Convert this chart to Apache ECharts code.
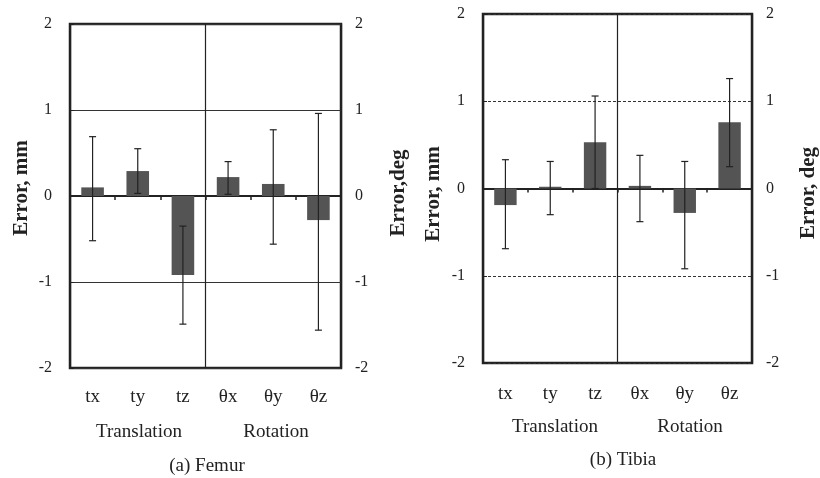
<!DOCTYPE html>
<html>
<head>
<meta charset="utf-8">
<script src="https://cdn.jsdelivr.net/npm/echarts@6/dist/echarts.min.js"></script>
<style>
  html, body { margin: 0; padding: 0; background: #fff; }
  #main { width: 820px; height: 478px; }
</style>
</head>
<body>
<div id="main"></div>
<script>
// values (mean and error bar ends)
var categories = ['tx', 'ty', 'tz', 'θx', 'θy', 'θz'];
var groupSize = 3; // translation | rotation

var femurMean = [0.10, 0.29, -0.92, 0.22, 0.14, -0.28];
var femurLow  = [-0.52, 0.03, -1.49, 0.02, -0.56, -1.56];
var femurHigh = [0.69, 0.55, -0.35, 0.40, 0.77, 0.96];

var tibiaMean = [-0.19, 0.02, 0.53, 0.03, -0.28, 0.76];
var tibiaLow  = [-0.69, -0.30, 0.00, -0.38, -0.92, 0.25];
var tibiaHigh = [0.33, 0.31, 1.06, 0.38, 0.31, 1.26];

var FONT = '"Liberation Serif", "DejaVu Serif", serif';
var INK = '#222';

var myChart = echarts.init(document.getElementById('main'));

function errRender(params, api) {
  var x = api.value(0);
  var lo = api.coord([x, api.value(1)]);
  var hi = api.coord([x, api.value(2)]);
  var cap = 3.5;
  var st = { stroke: INK, lineWidth: 1.2 };
  return {
    type: 'group',
    children: [
      { type: 'line', shape: { x1: lo[0], y1: lo[1], x2: hi[0], y2: hi[1] }, style: st },
      { type: 'line', shape: { x1: lo[0] - cap, y1: lo[1], x2: lo[0] + cap, y2: lo[1] }, style: st },
      { type: 'line', shape: { x1: hi[0] - cap, y1: hi[1], x2: hi[0] + cap, y2: hi[1] }, style: st }
    ]
  };
}

function yAxes(g, dashed) {
  return [
    {
      gridIndex: g, type: 'value', position: 'left', min: -2, max: 2, interval: 1,
      axisLine: { show: false },
      axisTick: { show: true, inside: true, length: 4, lineStyle: { color: INK } },
      axisLabel: { margin: 18, fontFamily: FONT, fontSize: 16, color: INK },
      splitLine: { show: true, lineStyle: { color: '#333', width: 1, type: dashed ? [3, 2] : 'solid' } }
    },
    {
      gridIndex: g, type: 'value', position: 'right', min: -2, max: 2, interval: 1,
      axisLine: { show: false },
      axisTick: { show: false },
      axisLabel: { margin: 14, fontFamily: FONT, fontSize: 16, color: INK },
      splitLine: { show: false }
    }
  ];
}

function xAxes(g, labelMargin) {
  return [
    {
      gridIndex: g, type: 'category', data: categories, position: 'bottom',
      axisLine: { show: false, onZero: false },
      axisTick: { show: false },
      axisLabel: { margin: labelMargin, fontFamily: FONT, fontSize: 19, color: INK },
      splitLine: { show: false }
    },
    {
      gridIndex: g, type: 'category', data: categories, position: 'top',
      axisLine: { show: true, onZero: true, lineStyle: { color: INK, width: 2 } },
      axisTick: { show: true, inside: true, length: 4, lineStyle: { color: INK, width: 1.5 } },
      axisLabel: { show: false },
      splitLine: { show: false }
    },
    {
      // group divider between translation and rotation
      gridIndex: g, type: 'value', position: 'bottom', min: 0, max: categories.length, interval: groupSize,
      axisLine: { show: false, onZero: false },
      axisTick: { show: false },
      axisLabel: { show: false },
      splitLine: { show: true, lineStyle: { color: INK, width: 1.2 } }
    }
  ];
}

function panelSeries(g, mean, low, high) {
  return [
    {
      type: 'bar', xAxisIndex: g * 3, yAxisIndex: g * 2,
      data: mean, barWidth: '50%',
      itemStyle: { color: '#545454' }, z: 3
    },
    {
      type: 'custom', xAxisIndex: g * 3, yAxisIndex: g * 2,
      renderItem: errRender,
      encode: { x: 0, y: [1, 2] },
      data: categories.map(function (c, i) { return [i, low[i], high[i]]; }),
      z: 4
    }
  ];
}

function label(text, x, y) {
  return {
    type: 'text', x: x, y: y,
    style: { text: text, font: '19px ' + FONT, fill: INK, textAlign: 'center', textVerticalAlign: 'middle' }
  };
}

function vlabel(text, x, y) {
  return {
    type: 'text', x: x, y: y, rotation: Math.PI / 2,
    style: { text: text, font: 'bold 21px ' + FONT, fill: INK, textAlign: 'center', textVerticalAlign: 'middle' }
  };
}

var option = {
  backgroundColor: '#fff',
  animation: false,
  grid: [
    { left: 70, top: 24, width: 271, height: 344, show: true, borderColor: INK, borderWidth: 2.5, backgroundColor: 'transparent' },
    { left: 483, top: 14, width: 269, height: 349, show: true, borderColor: INK, borderWidth: 2.5, backgroundColor: 'transparent' }
  ],
  xAxis: xAxes(0, 20).concat(xAxes(1, 22)),
  yAxis: yAxes(0, false).concat(yAxes(1, true)),
  series: panelSeries(0, femurMean, femurLow, femurHigh).concat(panelSeries(1, tibiaMean, tibiaLow, tibiaHigh)),
  graphic: [
    vlabel('Error, mm', 22, 188),
    vlabel('Error,deg', 399, 193),
    vlabel('Error, mm', 434, 194),
    vlabel('Error, deg', 809, 193),
    label('Translation', 139, 432),
    label('Rotation', 276, 432),
    label('(a) Femur', 207, 466),
    label('Translation', 555, 427),
    label('Rotation', 690, 427),
    label('(b) Tibia', 623, 460)
  ]
};

myChart.setOption(option);
</script>
</body>
</html>
